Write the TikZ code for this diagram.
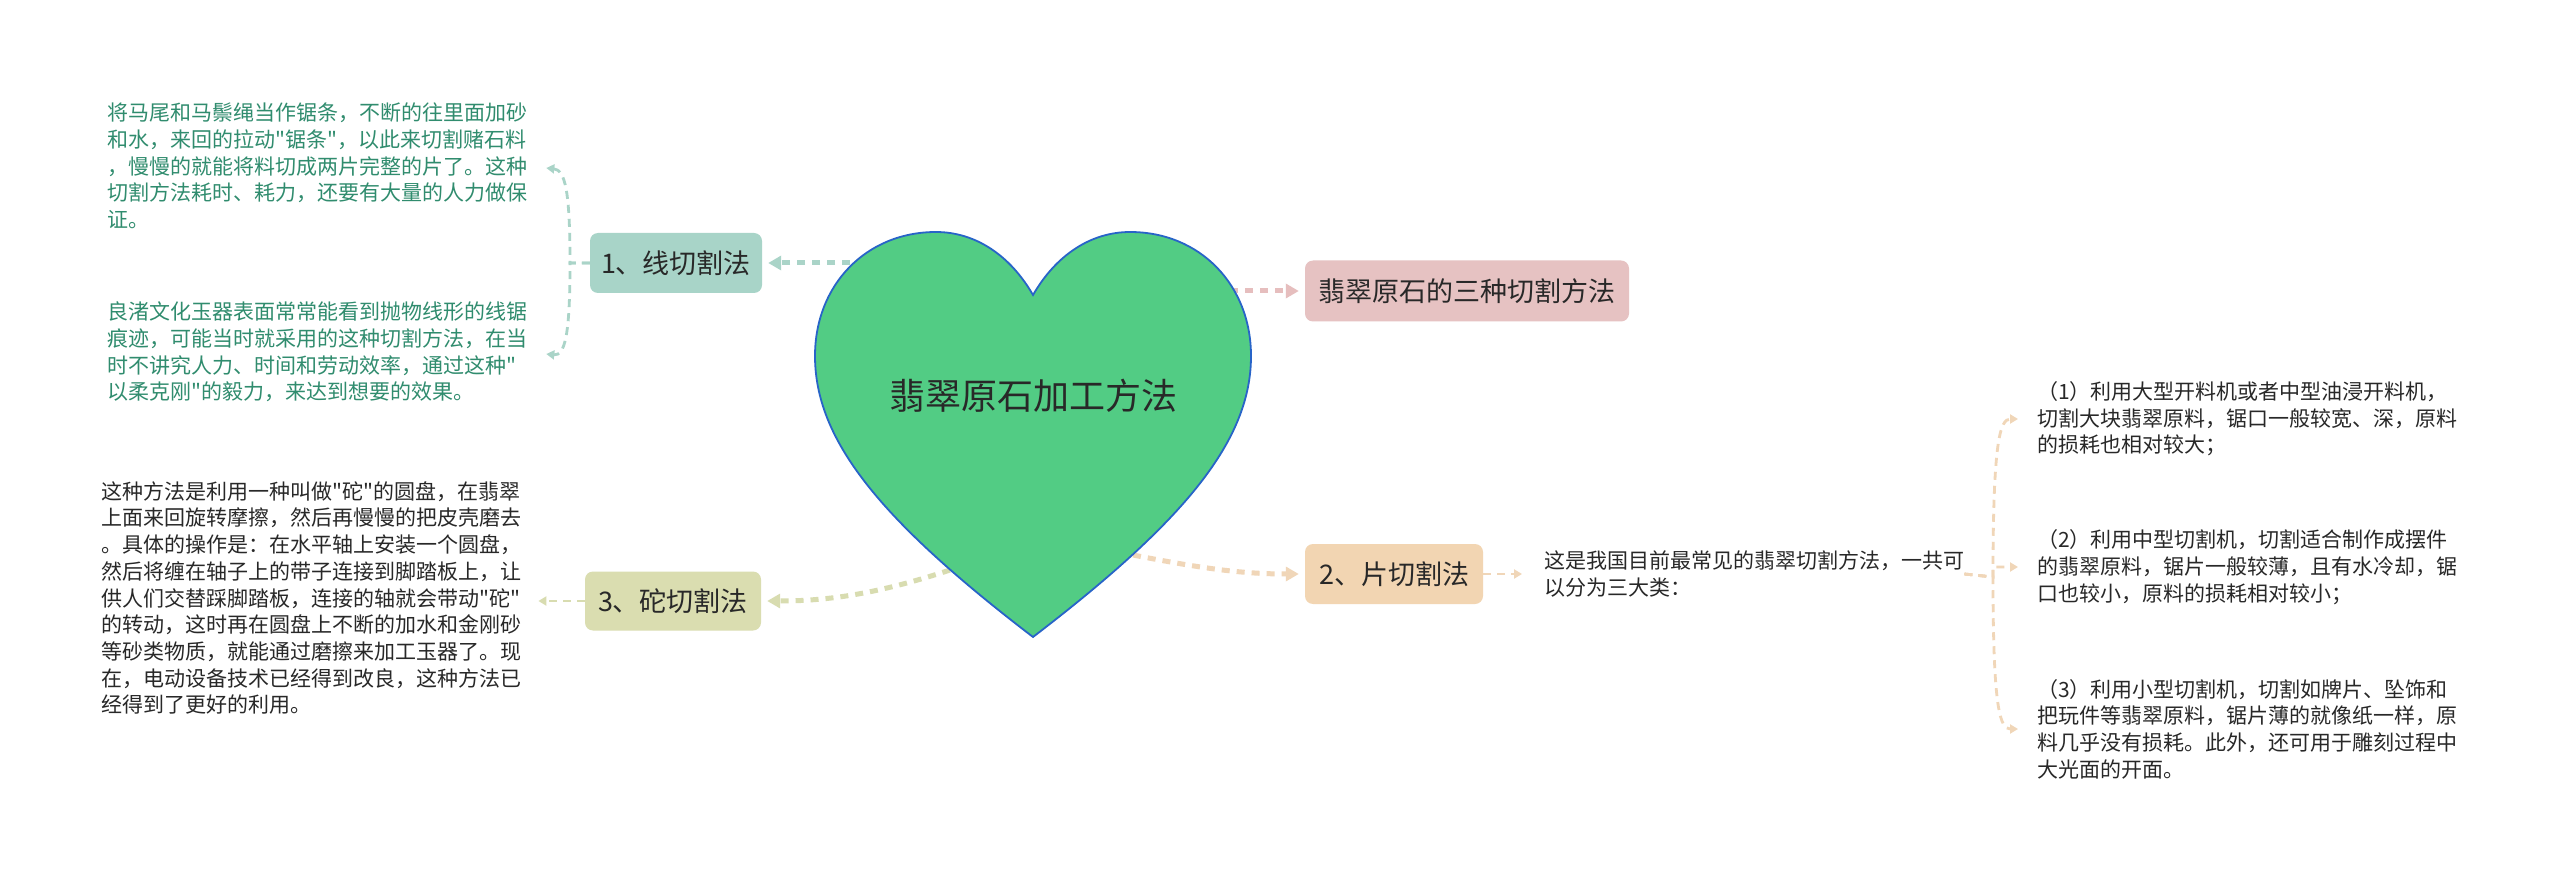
\documentclass[tikz,border=0pt]{standalone}
\usepackage{fontspec}
\setmainfont{Noto Sans CJK SC}[Ligatures=TeXOff]
\usetikzlibrary{arrows.meta}
\definecolor{heartfill}{RGB}{82,204,132}
\definecolor{heartline}{RGB}{40,100,200}
\definecolor{tealbox}{RGB}{168,212,200}
\definecolor{pinkbox}{RGB}{230,194,194}
\definecolor{peachbox}{RGB}{242,213,178}
\definecolor{olivebox}{RGB}{218,221,176}
\definecolor{tealline}{RGB}{170,212,200}
\definecolor{pinkline}{RGB}{230,190,190}
\definecolor{peachline}{RGB}{240,214,184}
\definecolor{oliveline}{RGB}{216,220,176}
\definecolor{greentext}{RGB}{48,140,110}
\definecolor{darktext}{RGB}{40,40,40}
\begin{document}
\begin{tikzpicture}[x=1pt,y=-1pt,
  box/.style={rounded corners=8pt, minimum height=60pt, inner sep=0pt,
    text=darktext, font=\fontsize{27}{32}\selectfont},
  para/.style={inner sep=0pt, align=left, anchor=west,
    font=\fontsize{21}{26.7}\selectfont},
  mainline/.style={line width=5pt, dash pattern=on 8pt off 7pt,
    -{Triangle[length=13pt,width=14pt]}, shorten >=6pt},
  subline/.style={line width=2.8pt, dash pattern=on 8pt off 6pt,
    -{Triangle[length=8pt,width=9pt]}}
]
\useasboundingbox[fill=white] (0,0) rectangle (2560,885);

% boxes
\node[box, fill=tealbox, minimum width=172pt] (b1) at (676,263) {1、线切割法};
\node[box, fill=pinkbox, minimum width=324pt, minimum height=61pt] (pk) at (1467,291) {翡翠原石的三种切割方法};
\node[box, fill=peachbox, minimum width=178pt] (b2) at (1394,574) {2、片切割法};
\node[box, fill=olivebox, minimum width=176pt, minimum height=59pt] (b3) at (673,601) {3、砣切割法};

% texts
\node[para, text=greentext] (t1) at (107,166) {将马尾和马鬃绳当作锯条，不断的往里面加砂\\和水，来回的拉动"锯条"，以此来切割赌石料\\，慢慢的就能将料切成两片完整的片了。这种\\切割方法耗时、耗力，还要有大量的人力做保\\证。};
\node[para, text=greentext] (t2) at (107,352) {良渚文化玉器表面常常能看到抛物线形的线锯\\痕迹，可能当时就采用的这种切割方法，在当\\时不讲究人力、时间和劳动效率，通过这种"\\以柔克刚"的毅力，来达到想要的效果。};
\node[para, text=darktext] (t3) at (101,598) {这种方法是利用一种叫做"砣"的圆盘，在翡翠\\上面来回旋转摩擦，然后再慢慢的把皮壳磨去\\。具体的操作是：在水平轴上安装一个圆盘，\\然后将缠在轴子上的带子连接到脚踏板上，让\\供人们交替踩脚踏板，连接的轴就会带动"砣"\\的转动，这时再在圆盘上不断的加水和金刚砂\\等砂类物质，就能通过磨擦来加工玉器了。现\\在，电动设备技术已经得到改良，这种方法已\\经得到了更好的利用。};
\node[para, text=darktext] (tm) at (1544,574) {这是我国目前最常见的翡翠切割方法，一共可\\以分为三大类：};
\node[para, text=darktext] (r1) at (2037,419) {（1）利用大型开料机或者中型油浸开料机，\\切割大块翡翠原料，锯口一般较宽、深，原料\\的损耗也相对较大；};
\node[para, text=darktext] (r2) at (2037,567) {（2）利用中型切割机，切割适合制作成摆件\\的翡翠原料，锯片一般较薄，且有水冷却，锯\\口也较小，原料的损耗相对较小；};
\node[para, text=darktext] (r3) at (2037,729) {（3）利用小型切割机，切割如牌片、坠饰和\\把玩件等翡翠原料，锯片薄的就像纸一样，原\\料几乎没有损耗。此外，还可用于雕刻过程中\\大光面的开面。};

% junctions and heart anchor points
\coordinate (hA) at (880,263);
\coordinate (hB) at (1200,291);
\coordinate (hC) at (1133,555);
\coordinate (hD) at (950,570);
\coordinate (j1) at (570,263);
\coordinate (j2) at (1993,577);

% main connectors (drawn under the heart)
\draw[mainline, tealline] (hA) -- (b1.east);
\draw[mainline, pinkline] (hB) -- (pk.west);
\draw[mainline, peachline] (hC) .. controls (1200,568) and (1240,574) .. (b2.west);
\draw[mainline, oliveline] (hD) .. controls (880,593) and (830,601) .. (b3.east);

% heart
\filldraw[fill=heartfill, draw=heartline, line width=1.8pt]
  (1033,295) .. controls (1010,255) and (975,232) .. (936,232)
  .. controls (866,232) and (815,285) .. (815,356)
  .. controls (815,440) and (880,520) .. (1033,637)
  .. controls (1186,520) and (1251,440) .. (1251,356)
  .. controls (1251,285) and (1200,232) .. (1130,232)
  .. controls (1091,232) and (1056,255) .. (1033,295) -- cycle;
\node[text=darktext, font=\fontsize{36}{40}\selectfont, inner sep=0pt] (heart) at (1033,396) {翡翠原石加工方法};

% sub connectors
\draw[subline, tealline, shorten >=19pt] (b1.west) -- (j1) .. controls (570,190) and (565,170) .. (t1.east);
\draw[subline, tealline, shorten >=19pt] (b1.west) -- (j1) .. controls (570,335) and (565,356) .. (t2.east);
\draw[subline, oliveline, shorten >=17pt] (b3.west) -- (b3.west -| t3.east);
\draw[subline, peachline, shorten >=22pt] (b2.east) -- (tm.west);
\draw[subline, peachline, shorten >=19pt] (tm.east) -- (j2) .. controls (1993,440) and (2000,419) .. (r1.west);
\draw[subline, peachline, shorten >=19pt] (tm.east) -- (j2) |- (r2.west);
\draw[subline, peachline, shorten >=19pt] (tm.east) -- (j2) .. controls (1993,710) and (2000,729) .. (r3.west);
\end{tikzpicture}
\end{document}
